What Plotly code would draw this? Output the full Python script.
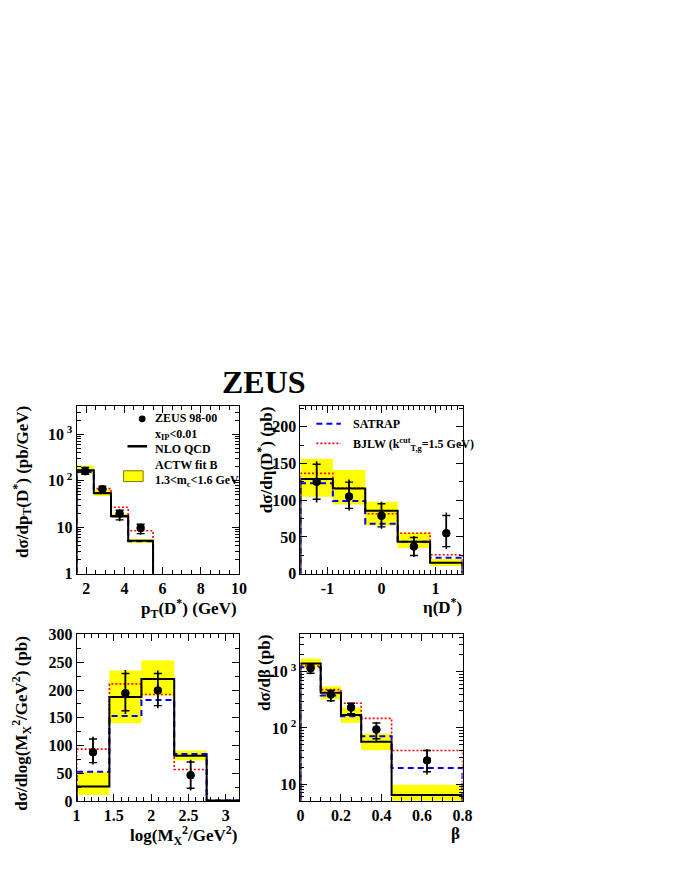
import plotly.graph_objects as go

# ---- p_T(D*) ----
pt_edges = [1.5, 2.4, 3.3, 4.2, 5.5]
pt_x = [1.95, 2.85, 3.75, 4.85]
pt_data = [160, 66, 19.5, 9.6]
pt_err_up = [40, 13, 4.5, 2.4]
pt_err_dn = [25, 12, 6, 2.7]
pt_nlo = [170, 54, 17.5, 5.1]
pt_nlo_lo = [140, 47, 16, 4.6]
pt_nlo_hi = [215, 64, 19.5, 5.6]
pt_satrap = [155, 55, 17, 5.0]
pt_bjlw = [165, 68, 27, 8.4]

# ---- eta(D*) ----
eta_edges = [-1.5, -0.9, -0.3, 0.3, 0.9, 1.5]
eta_x = [-1.2, -0.6, 0.0, 0.6, 1.2]
eta_data = [125, 105, 79, 37, 55]
eta_err_up = [28, 23, 19, 14.4, 28.4]
eta_err_dn = [28, 19, 18, 14.4, 21.3]
eta_nlo = [129, 116, 85.5, 43.5, 15]
eta_nlo_lo = [104.6, 94, 65.6, 35, 10.6]
eta_nlo_hi = [156.5, 141, 98, 56, 20]
eta_satrap = [123, 99, 68, 43.5, 21.7]
eta_bjlw = [136.5, 116.6, 81.5, 55, 25.7]

# ---- log(M_X^2) ----
mx_edges = [1.0, 1.44, 1.87, 2.31, 2.745, 3.18]
mx_x = [1.22, 1.655, 2.09, 2.53]
mx_data = [88, 194, 199, 46.5]
mx_err_up = [28, 42, 36, 28]
mx_err_dn = [22, 37, 32, 27.5]
mx_nlo = [26.5, 187.6, 220, 81.7, 1]
mx_nlo_lo = [11, 140, 190, 73.5, 0]
mx_nlo_hi = [52.4, 235, 253, 91, 2]
mx_satrap = [53, 153, 182, 84.7, 1]
mx_bjlw = [93.5, 211, 192, 57, 0.5]

# ---- beta ----
beta_edges = [0, 0.1, 0.2, 0.3, 0.45, 0.8]
beta_x = [0.05, 0.15, 0.25, 0.375, 0.625]
beta_data = [1150, 393, 231, 94, 26.5]
beta_err_up = [250, 86, 50, 33, 15.5]
beta_err_dn = [250, 105, 61, 35, 11.6]
beta_nlo = [1400, 421, 170, 57, 6.4]
beta_nlo_lo = [1145, 322, 123, 40, 5.1]
beta_nlo_hi = [1710, 548, 231, 79, 9.8]
beta_satrap = [1195, 378, 161, 71, 19.5]
beta_bjlw = [1260, 479, 275, 148, 39.6]

# the page body keeps its 8px margin, so the figure is made 16px smaller
OFF = 8
W, H = 674 - 2 * OFF, 872 - 2 * OFF
FONT = "Liberation Serif"
YELLOW = "#ffff00"
RED_DOT = "2px,2px"
BLUE_DASH = "6px,4px"


def px(v):
    return (v - OFF) / W


def py(v):
    return 1 - (v - OFF) / H


def step_xy(edges, vals, floor):
    xs = [edges[0], edges[0]] + list(edges[1:]) + [edges[-1]]
    ys = [floor] + list(vals) + [vals[-1], floor]
    return xs, ys


def band_xy(edges, lo, hi):
    xs, ys = [], []
    for i in range(len(lo)):
        a, b = edges[i], edges[i + 1]
        xs += [a, b, b, a, a, None]
        ys += [lo[i], lo[i], hi[i], hi[i], lo[i], None]
    return xs, ys


fig = go.Figure()

panels = [
    dict(ax="", edges=pt_edges, x=pt_x, d=pt_data, up=pt_err_up, dn=pt_err_dn,
         nlo=pt_nlo, lo=pt_nlo_lo, hi=pt_nlo_hi, sat=pt_satrap, bj=pt_bjlw, floor=1e-3),
    dict(ax="2", edges=eta_edges, x=eta_x, d=eta_data, up=eta_err_up, dn=eta_err_dn,
         nlo=eta_nlo, lo=eta_nlo_lo, hi=eta_nlo_hi, sat=eta_satrap, bj=eta_bjlw, floor=0),
    dict(ax="3", edges=mx_edges, x=mx_x, d=mx_data, up=mx_err_up, dn=mx_err_dn,
         nlo=mx_nlo, lo=mx_nlo_lo, hi=mx_nlo_hi, sat=mx_satrap, bj=mx_bjlw, floor=0),
    dict(ax="4", edges=beta_edges, x=beta_x, d=beta_data, up=beta_err_up, dn=beta_err_dn,
         nlo=beta_nlo, lo=beta_nlo_lo, hi=beta_nlo_hi, sat=beta_satrap, bj=beta_bjlw, floor=1e-3),
]

for p in panels:
    xa, ya = "x" + p["ax"], "y" + p["ax"]
    bx, by = band_xy(p["edges"], p["lo"], p["hi"])
    fig.add_trace(go.Scatter(x=bx, y=by, xaxis=xa, yaxis=ya, mode="lines", fill="toself",
                             fillcolor=YELLOW, line=dict(width=0), hoverinfo="skip"))
    sx, sy = step_xy(p["edges"], p["bj"], p["floor"])
    fig.add_trace(go.Scatter(x=sx, y=sy, xaxis=xa, yaxis=ya, mode="lines", line_shape="hv",
                             line=dict(color="#ff0000", width=1.6, dash=RED_DOT),
                             name="BJLW"))
    sx, sy = step_xy(p["edges"], p["sat"], p["floor"])
    fig.add_trace(go.Scatter(x=sx, y=sy, xaxis=xa, yaxis=ya, mode="lines", line_shape="hv",
                             line=dict(color="#0000ff", width=2, dash=BLUE_DASH),
                             name="SATRAP"))
    sx, sy = step_xy(p["edges"], p["nlo"], p["floor"])
    fig.add_trace(go.Scatter(x=sx, y=sy, xaxis=xa, yaxis=ya, mode="lines", line_shape="hv",
                             line=dict(color="black", width=2), name="NLO QCD"))
    # total errors
    fig.add_trace(go.Scatter(x=p["x"], y=p["d"], xaxis=xa, yaxis=ya, mode="markers",
                             marker=dict(color="black", size=8),
                             error_y=dict(type="data", symmetric=False, array=p["up"],
                                          arrayminus=p["dn"], color="black",
                                          thickness=1.6, width=0),
                             name="ZEUS 98-00"))
    # inner (statistical) errors with ticks
    fig.add_trace(go.Scatter(x=p["x"], y=p["d"], xaxis=xa, yaxis=ya, mode="markers",
                             marker=dict(color="black", size=8),
                             error_y=dict(type="data", symmetric=False,
                                          array=[0.85 * v for v in p["up"]],
                                          arrayminus=[0.85 * v for v in p["dn"]],
                                          color="black", thickness=1.4, width=4),
                             hoverinfo="skip"))

dom_x1 = [px(74), px(240)]
dom_x2 = [px(302.7), px(468.3)]
dom_top = [py(577), py(406)]
dom_bot = [py(809), py(639)]

tickfont = dict(family=FONT, size=16, color="black", weight="bold")
common = dict(showline=True, linecolor="black", linewidth=1, mirror="allticks",
              ticks="inside", ticklen=7, tickcolor="black", showgrid=False,
              zeroline=False, tickfont=tickfont)
minor_style = dict(ticks="inside", ticklen=4, tickcolor="black", showgrid=False)

fig.update_layout(
    width=W, height=H, margin=dict(l=0, r=0, t=0, b=0),
    paper_bgcolor="white", plot_bgcolor="white", showlegend=False,
    font=dict(family=FONT, color="black", size=13, weight="bold"),
    xaxis=dict(domain=dom_x1, anchor="y", range=[1.5, 10], tickvals=[2, 4, 6, 8, 10],
               minor=dict(dtick=0.5, **minor_style), **common),
    yaxis=dict(domain=dom_top, anchor="x", type="log", range=[0, 3.61],
               tickvals=[1, 10, 100, 1000],
               ticktext=["1", "10", "10<sup> 2</sup>", "10<sup> 3</sup>"],
               minor=dict(dtick="D1", **minor_style), **common),
    xaxis2=dict(domain=dom_x2, anchor="y2", range=[-1.5, 1.5], tickvals=[-1, 0, 1],
                ticktext=["-1", "0", "1"],
                minor=dict(dtick=0.1, **minor_style), **common),
    yaxis2=dict(domain=dom_top, anchor="x2", range=[0, 228], tickvals=[0, 50, 100, 150, 200],
                minor=dict(dtick=25, **minor_style), **common),
    xaxis3=dict(domain=dom_x1, anchor="y3", range=[1, 3.18], tickvals=[1, 1.5, 2, 2.5, 3],
                minor=dict(dtick=0.1, **minor_style), **common),
    yaxis3=dict(domain=dom_bot, anchor="x3", range=[0, 300],
                tickvals=[0, 50, 100, 150, 200, 250, 300],
                minor=dict(dtick=25, **minor_style), **common),
    xaxis4=dict(domain=dom_x2, anchor="y4", range=[0, 0.8], tickvals=[0, 0.2, 0.4, 0.6, 0.8],
                minor=dict(dtick=0.05, **minor_style), **common),
    yaxis4=dict(domain=dom_bot, anchor="x4", type="log", range=[0.70, 3.66],
                tickvals=[10, 100, 1000],
                ticktext=["10", "10<sup> 2</sup>", "10<sup> 3</sup>"],
                minor=dict(dtick="D1", **minor_style), **common),
)

# hand-drawn legends (ROOT style)
leg_font = dict(family=FONT, size=12, color="black", weight="bold")
shapes = [
    dict(type="circle", x0=px(137.5), x1=px(144.5), y0=py(415.5), y1=py(422.5),
         fillcolor="black", line=dict(color="black", width=0)),
    dict(type="line", x0=px(126), x1=px(146), y0=py(447), y1=py(447),
         line=dict(color="black", width=2.5)),
    dict(type="rect", x0=px(122), x1=px(142), y0=py(472), y1=py(483),
         fillcolor=YELLOW, line=dict(color="#7a7a00", width=1)),
    dict(type="line", x0=px(319), x1=px(344), y0=py(424), y1=py(424),
         line=dict(color="#0000ff", width=2.2, dash=BLUE_DASH)),
    dict(type="line", x0=px(319), x1=px(344), y0=py(444), y1=py(444),
         line=dict(color="#ff0000", width=1.6, dash=RED_DOT)),
]
for s in shapes:
    fig.add_shape(xref="paper", yref="paper", layer="above", **s)

title_font = dict(family=FONT, size=17, color="black", weight="bold")
legend_lines = ["ZEUS 98-00", "x<sub>IP</sub><0.01", "NLO QCD", "ACTW fit B",
                "1.3<m<sub>c</sub><1.6 GeV"]
annots = [
    dict(text="ZEUS", x=px(265), y=py(381), font=dict(family=FONT, size=32, color="black",
                                                       weight="bold")),
    dict(text="dσ/dp<sub>T</sub>(D<sup>*</sup>) (pb/GeV)", x=px(18), y=py(404),
         yanchor="top", textangle=-90, font=title_font),
    dict(text="dσ/dη(D<sup>*</sup>) (pb)", x=px(266), y=py(404),
         yanchor="top", textangle=-90, font=title_font),
    dict(text="dσ/dlog(M<sub>X</sub><sup>2</sup>/GeV<sup>2</sup>) (pb)", x=px(18), y=py(638),
         yanchor="top", textangle=-90, font=title_font),
    dict(text="dσ/dβ (pb)", x=px(266), y=py(638),
         yanchor="top", textangle=-90, font=title_font),
    dict(text="p<sub>T</sub>(D<sup>*</sup>) (GeV)", x=px(240), y=py(613), xanchor="right",
         font=title_font),
    dict(text="η(D<sup>*</sup>)", x=px(470), y=py(610), xanchor="right", font=title_font),
    dict(text="log(M<sub>X</sub><sup>2</sup>/GeV<sup>2</sup>)", x=px(240), y=py(844),
         xanchor="right", font=title_font),
    dict(text="β", x=px(468), y=py(842), xanchor="right", font=title_font),
    dict(text="<br>".join(legend_lines), x=px(153), y=py(410), xanchor="left",
         yanchor="top", align="left", borderpad=0, font=leg_font),
    dict(text="SATRAP", x=px(354), y=py(424), xanchor="left", font=leg_font),
    dict(text="BJLW (k<sup>cut</sup><sub>T,g</sub>=1.5 GeV)", x=px(354), y=py(445),
         xanchor="left", font=leg_font),
]
for a in annots:
    a.setdefault("xanchor", "center")
    a.setdefault("yanchor", "middle")
    fig.add_annotation(xref="paper", yref="paper", showarrow=False, **a)

fig.write_html("out.html")
